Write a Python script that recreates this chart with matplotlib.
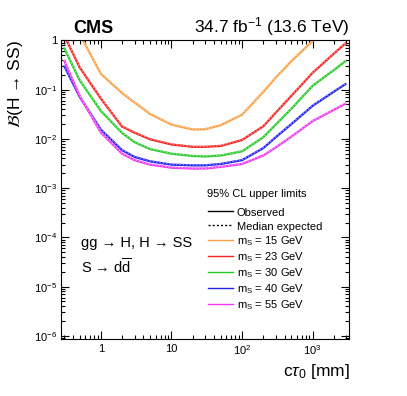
import matplotlib
matplotlib.use('Agg')
import matplotlib.pyplot as plt
from matplotlib.lines import Line2D
from matplotlib.ticker import LogLocator, NullFormatter

plt.rcParams['font.family'] = ['Liberation Sans', 'DejaVu Sans']
plt.rcParams['mathtext.fontset'] = 'custom'
plt.rcParams['mathtext.rm'] = 'Liberation Sans'
plt.rcParams['mathtext.it'] = 'Liberation Sans:italic'
plt.rcParams['mathtext.bf'] = 'Liberation Sans:bold'

# ---------------- data ----------------
ctau = [0.3, 0.5, 1, 2, 3, 5, 10, 20, 30, 50, 100, 200, 300, 500, 1000, 2000, 3000]

obs_15 = [3.0, 1.35, 0.21, 0.085, 0.055, 0.032, 0.0195, 0.0155, 0.0157, 0.019, 0.031, 0.090, 0.175, 0.38, 0.97, 2.5, 4.5]
obs_23 = [1.3, 0.285, 0.066, 0.0178, 0.0134, 0.0098, 0.0077, 0.0069, 0.0069, 0.0072, 0.0095, 0.018, 0.034, 0.075, 0.22, 0.54, 0.90]
obs_30 = [0.72, 0.156, 0.037, 0.0132, 0.0086, 0.0062, 0.0050, 0.0045, 0.0044, 0.0046, 0.0056, 0.0108, 0.0195, 0.041, 0.12, 0.25, 0.39]
obs_40 = [0.31, 0.072, 0.0154, 0.0059, 0.0043, 0.0035, 0.0030, 0.0029, 0.0029, 0.0031, 0.0037, 0.0065, 0.0108, 0.020, 0.047, 0.091, 0.133]
obs_55 = [0.40, 0.075, 0.0135, 0.0050, 0.0037, 0.0030, 0.0026, 0.0025, 0.0025, 0.0027, 0.0031, 0.0046, 0.0067, 0.0111, 0.023, 0.039, 0.053]

exp_15 = [3.1, 1.38, 0.215, 0.087, 0.056, 0.0328, 0.0199, 0.0158, 0.0160, 0.0194, 0.0316, 0.092, 0.178, 0.39, 0.99, 2.55, 4.6]
exp_23 = [1.33, 0.29, 0.0675, 0.0182, 0.0137, 0.0100, 0.0079, 0.0070, 0.0070, 0.0074, 0.0097, 0.0184, 0.0347, 0.0765, 0.224, 0.55, 0.92]
exp_30 = [0.735, 0.159, 0.0378, 0.0135, 0.0088, 0.0063, 0.0051, 0.0046, 0.0045, 0.0047, 0.0057, 0.0110, 0.0199, 0.0418, 0.122, 0.255, 0.40]
exp_40 = [0.316, 0.0735, 0.0157, 0.0060, 0.0044, 0.00357, 0.00306, 0.00296, 0.00296, 0.00316, 0.00377, 0.0066, 0.0110, 0.0204, 0.048, 0.093, 0.136]
exp_55 = [0.408, 0.0765, 0.0138, 0.0051, 0.00378, 0.00306, 0.00265, 0.00255, 0.00255, 0.00275, 0.00316, 0.0047, 0.0068, 0.0113, 0.0235, 0.040, 0.054]

masses = ['15', '23', '30', '40', '55']
colors = ['#FA9F45', '#F52222', '#28C828', '#2222F0', '#F035F0']
light = ['#FCCB96', '#F98C8C', '#8EE48E', '#8C8CF8', '#F896F8']

xticks = [1, 10, 100, 1000]
xticklabels = ['1', '10', '$10^{2}$', '$10^{3}$']
yticks = [1e-6, 1e-5, 1e-4, 1e-3, 1e-2, 1e-1, 1]
yticklabels = ['$10^{-6}$', '$10^{-5}$', '$10^{-4}$', '$10^{-3}$', '$10^{-2}$', '$10^{-1}$', '1']

# ---------------- figure ----------------
fig = plt.figure(figsize=(4.07, 3.96), dpi=100)
ax = fig.add_axes([0.150, 0.143, 0.708, 0.755])

obs = [obs_15, obs_23, obs_30, obs_40, obs_55]
exp = [exp_15, exp_23, exp_30, exp_40, exp_55]
for o, e, c, lc in zip(obs, exp, colors, light):
    ax.plot(ctau, o, color=c, lw=1.6, solid_capstyle='butt')
    ax.plot(ctau, e, color=lc, lw=1.0, ls=(0, (1.2, 1.2)))

ax.set_xscale('log')
ax.set_yscale('log')
ax.set_xlim(0.273, 3300)
ax.set_ylim(8.5e-7, 1.0)

ax.set_xticks(xticks, labels=xticklabels)
ax.set_yticks(yticks, labels=yticklabels)
ax.xaxis.set_minor_locator(LogLocator(base=10, subs=range(2, 10), numticks=20))
ax.yaxis.set_minor_locator(LogLocator(base=10, subs=range(2, 10), numticks=20))
ax.xaxis.set_minor_formatter(NullFormatter())
ax.yaxis.set_minor_formatter(NullFormatter())
ax.tick_params(which='both', direction='in', top=True, right=True, labelsize=8, width=0.8)
ax.tick_params(which='major', length=5.5, pad=3)
ax.tick_params(which='minor', length=2.8)
for s in ax.spines.values():
    s.set_linewidth(0.8)

ax.set_xlabel(r'c$\tau_{0}$ [mm]', fontsize=12.5, loc='right')
ax.xaxis.set_label_coords(1.0, -0.075)
ax.set_ylabel(r'$\mathcal{B}$(H → SS)', fontsize=12.5, loc='top', math_fontfamily='stix')
ax.yaxis.set_label_coords(-0.125, 1.0)

ax.text(0.042, 1.026, 'CMS', transform=ax.transAxes, fontsize=13, fontweight='bold', va='baseline', ha='left')
ax.text(1.0, 1.026, r'34.7 fb$^{-1}$ (13.6 TeV)', transform=ax.transAxes, fontsize=12.5, va='baseline', ha='right')

ax.text(0.069, 0.321, 'gg → H, H → SS', transform=ax.transAxes, fontsize=10.5, va='center', ha='left')
ax.text(0.069, 0.242, r'S → d$\overline{\mathrm{d}}$', transform=ax.transAxes, fontsize=10.5, va='center', ha='left')

ax.text(0.507, 0.485, '95% CL upper limits', transform=ax.transAxes, fontsize=8, va='center', ha='left')

handles = [Line2D([], [], color='black', lw=1.0),
           Line2D([], [], color='black', lw=1.0, ls=(0, (1.5, 1.5)))]
labels = ['Observed', 'Median expected']
for m, c in zip(masses, colors):
    handles.append(Line2D([], [], color=c, lw=1.0))
    labels.append(r'm$_{\mathrm{S}}$ = ' + m + ' GeV')
leg = ax.legend(handles, labels, loc='upper left',
                bbox_to_anchor=(0.491, 0.465), frameon=False, fontsize=8,
                handlelength=2.2, handletextpad=0.4,
                handleheight=1.3, labelspacing=0.2, borderpad=0)

fig.savefig('out.png', dpi=100)
